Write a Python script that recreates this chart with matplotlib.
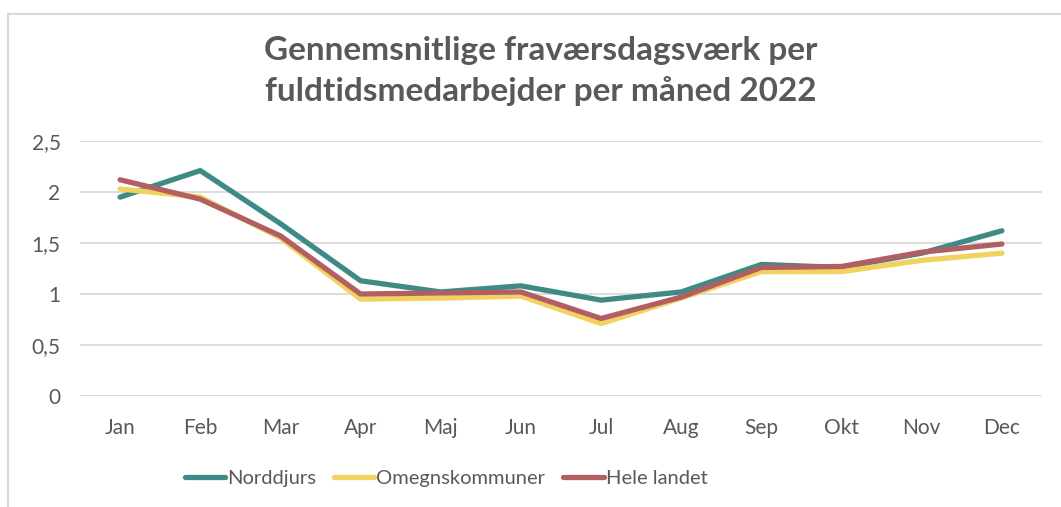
import matplotlib.pyplot as plt
from matplotlib.patches import Rectangle
from matplotlib.ticker import FuncFormatter

plt.rcParams['font.family'] = ['Lato', 'DejaVu Sans']

# Data
maaneder = ['Jan', 'Feb', 'Mar', 'Apr', 'Maj', 'Jun', 'Jul', 'Aug', 'Sep', 'Okt', 'Nov', 'Dec']
norddjurs = [1.95, 2.21, 1.69, 1.13, 1.02, 1.08, 0.94, 1.02, 1.29, 1.26, 1.40, 1.62]
omegn = [2.03, 1.95, 1.55, 0.95, 0.96, 0.98, 0.71, 0.96, 1.22, 1.22, 1.33, 1.40]
hele_landet = [2.12, 1.93, 1.57, 1.00, 1.01, 1.02, 0.76, 0.97, 1.26, 1.27, 1.41, 1.49]

serier = ['Norddjurs', 'Omegnskommuner', 'Hele landet']
farver = ['#3e8b86', '#f2d25e', '#b25f63']
tekst = '#595959'

fig = plt.figure(figsize=(10.61, 5.07), dpi=100)
ax = fig.add_axes([80 / 1061, 1 - 396 / 507, 962 / 1061, 255 / 507])

# Ramme omkring diagrammet (kun venstre og top synlig)
fig.patches.append(Rectangle((8 / 1061, -0.1), 1.2, 1 - 13.5 / 507 + 0.1,
                             transform=fig.transFigure, fill=False,
                             edgecolor='#d9d9d9', linewidth=1.5))

x = range(len(maaneder))
for vaerdier, navn, farve in zip([norddjurs, omegn, hele_landet], serier, farver):
    ax.plot(x, vaerdier, color=farve, linewidth=3.8, label=navn,
            solid_capstyle='round', solid_joinstyle='round')

ax.set_xlim(-0.5, 11.5)
ax.set_ylim(0, 2.5)
ax.set_yticks([0, 0.5, 1, 1.5, 2, 2.5])
ax.yaxis.set_major_formatter(FuncFormatter(lambda v, p: f'{v:g}'.replace('.', ',')))
ax.set_xticks(list(x))
ax.set_xticklabels(maaneder)
ax.grid(axis='y', color='#d9d9d9', linewidth=1.3)
ax.set_axisbelow(True)
for s in ax.spines.values():
    s.set_visible(False)
ax.tick_params(length=0, labelsize=15, colors=tekst)
ax.tick_params(axis='x', pad=16)
ax.tick_params(axis='y', pad=14)

fig.text(541 / 1061, 1 - 71 / 507,
         'Gennemsnitlige fraværsdagsværk per\nfuldtidsmedarbejder per måned 2022',
         ha='center', va='center', fontsize=24, fontweight='bold', color=tekst,
         linespacing=1.45)

leg = fig.legend(loc='center', bbox_to_anchor=(446 / 1061, 1 - 478 / 507), ncol=3,
                 frameon=False, fontsize=14.5, handlelength=2.0, handletextpad=0.1,
                 columnspacing=0.9)
for t in leg.get_texts():
    t.set_color(tekst)

fig.savefig('out.png', dpi=100)
